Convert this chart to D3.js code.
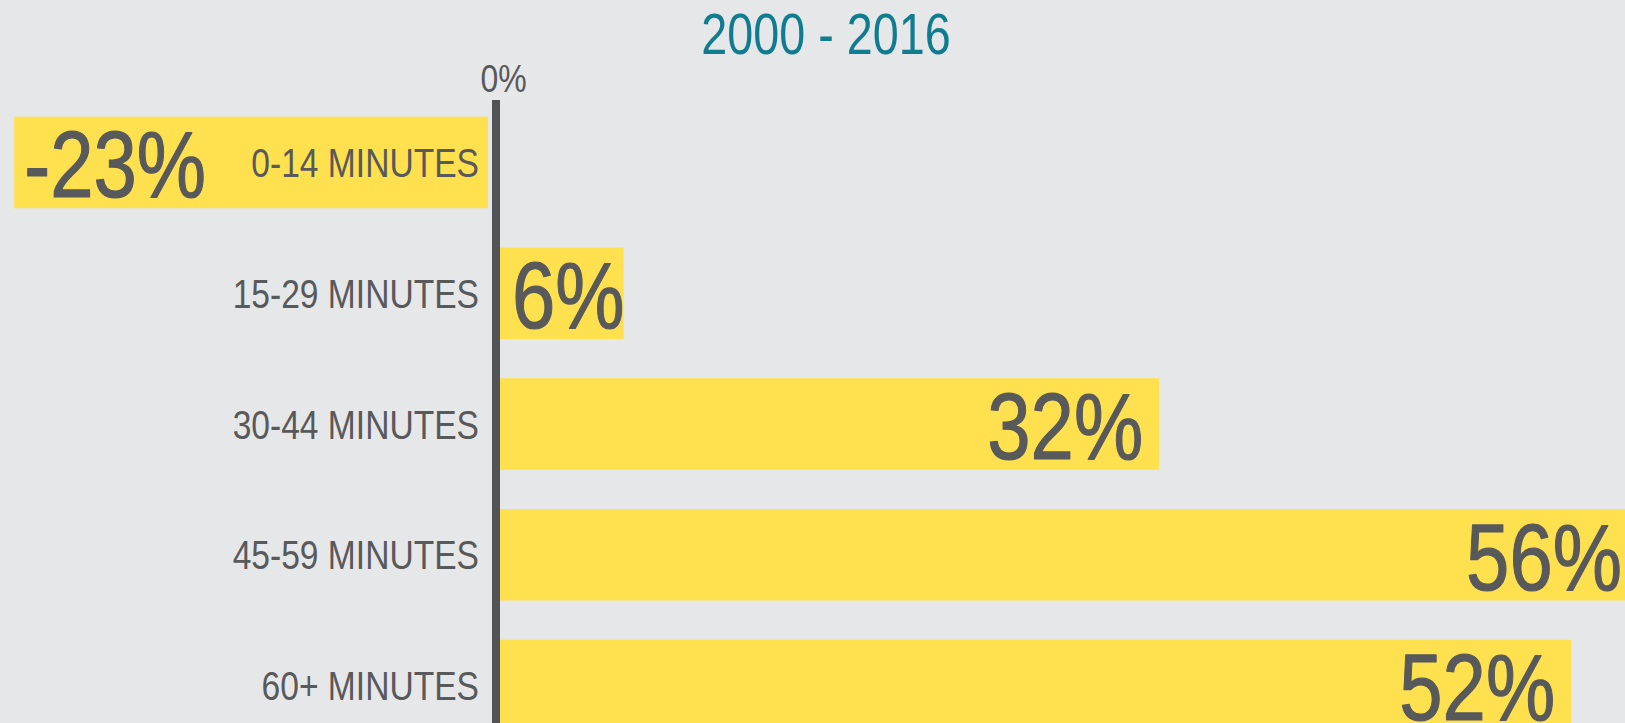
<!DOCTYPE html>
<html>
<head>
<meta charset="utf-8">
<script src="https://cdn.jsdelivr.net/npm/d3@7"></script>
<style>
  html, body { margin: 0; padding: 0; background: #e6e7e8; overflow: hidden; }
  svg { display: block; }
  text { font-family: "Liberation Sans", Arial, sans-serif; }
</style>
</head>
<body>
<svg id="chart"></svg>
<script>
// Change in commute length, 2000 - 2016
const categories = ["0-14 MINUTES", "15-29 MINUTES", "30-44 MINUTES", "45-59 MINUTES", "60+ MINUTES"];
const changePct = [-23, 6, 32, 56, 52];
const subtitle = "2000 - 2016";
const zeroLabel = "0%";

const W = 1625, H = 723;
const svg = d3.select("#chart").attr("width", W).attr("height", H);

const colors = {
  bg: "#e6e7e8",
  bar: "#ffe04f",
  text: "#58595b",
  axis: "#525357",
  subtitle: "#0f7c90"
};

// Horizontal squeeze that gives the condensed lettering
const NARROW = 0.82;
const place = (x, y, s = NARROW) => `translate(${x},${y}) scale(${s},1)`;

svg.append("rect").attr("width", W).attr("height", H).attr("fill", colors.bg);

const data = categories.map((c, i) => ({ cat: c, v: changePct[i] }));

// Zero line position and the small gap bars keep from it
const zeroX = 494, gap = 6;

// Bar length per percentage point
const len = d3.scaleLinear().domain([0, 60]).range([0, 60 * 20.6]);

const y = d3.scaleBand()
  .domain(categories)
  .range([116.7, 731.3])
  .paddingInner(0.3)
  .paddingOuter(0);

// Subtitle
svg.append("text")
  .attr("transform", place(826, 54))
  .attr("text-anchor", "middle")
  .attr("fill", colors.subtitle)
  .style("font-size", "57px")
  .text(subtitle);

// Bars
const barX = d => d.v >= 0 ? zeroX + gap : zeroX - gap - len(-d.v);
const barW = d => len(Math.abs(d.v));

svg.append("g").selectAll("rect")
  .data(data)
  .join("rect")
  .attr("x", barX)
  .attr("y", d => y(d.cat))
  .attr("width", barW)
  .attr("height", y.bandwidth())
  .attr("fill", colors.bar);

// Zero axis line
svg.append("rect")
  .attr("x", zeroX - 2).attr("y", 100)
  .attr("width", 8).attr("height", H - 100)
  .attr("fill", colors.axis);

svg.append("text")
  .attr("transform", place(503.5, 92))
  .attr("text-anchor", "middle")
  .attr("fill", colors.text)
  .style("font-size", "39px")
  .text(zeroLabel);

// Category labels, right-aligned just left of the axis
svg.append("g").selectAll("text")
  .data(data)
  .join("text")
  .attr("transform", d => place(479, y(d.cat) + y.bandwidth() / 2 + 14.5, 0.84))
  .attr("text-anchor", "end")
  .attr("fill", colors.text)
  .style("font-size", "40px")
  .text(d => d.cat);

// Value labels inside the bars, in a slightly heavier cut
const fmt = v => `${v}%`;
const valueLabels = svg.append("g").selectAll("text")
  .data(data)
  .join("text")
  .attr("fill", colors.text)
  .attr("stroke", colors.text)
  .attr("stroke-width", 1.2)
  .attr("stroke-linejoin", "round")
  .style("font-size", "95px")
  .text(d => fmt(d.v));

valueLabels.each(function (d) {
  const t = d3.select(this);
  const tw = this.getComputedTextLength() * NARROW;
  const x0 = barX(d), w = barW(d);
  const yb = y(d.cat) + y.bandwidth() - 11;
  if (d.v < 0) {
    t.attr("transform", place(x0 + 10, yb)).attr("text-anchor", "start");
  } else if (w < tw + 28) {
    t.attr("transform", place(x0 + 12, yb)).attr("text-anchor", "start");
  } else {
    t.attr("transform", place(Math.min(x0 + w - 16, W - 3), yb)).attr("text-anchor", "end");
  }
});
</script>
</body>
</html>
